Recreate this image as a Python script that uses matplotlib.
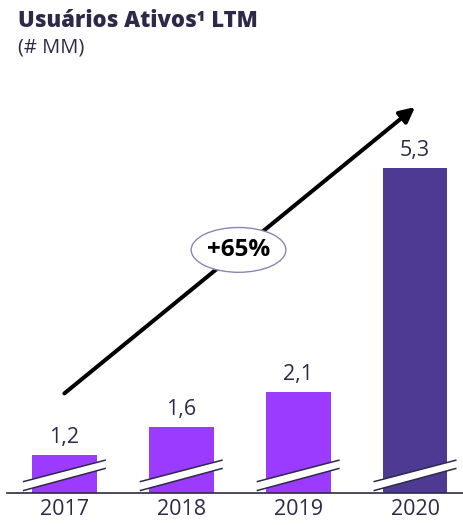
import matplotlib
matplotlib.use("Agg")
import matplotlib.pyplot as plt
from matplotlib.patches import Ellipse, Polygon

# Data
years = ["2017", "2018", "2019", "2020"]
users = [1.2, 1.6, 2.1, 5.3]
value_labels = ["1,2", "1,6", "2,1", "5,3"]
bar_colors = ["#9B3BFF", "#9B3BFF", "#9B3BFF", "#4F3A93"]
growth_label = "+65%"

TEXT = "#2C2A48"

fig = plt.figure(figsize=(4.64, 5.25), dpi=100)
ax = fig.add_axes([7 / 464, 32 / 525, 1 - 7 / 464, 433 / 525])

x = list(range(len(years)))
ax.bar(x, users, width=0.555, color=bar_colors, zorder=2)

ax.set_xlim(-0.491, 3.419)
ax.set_ylim(0.657, 6.843)

for xi, v, lab in zip(x, users, value_labels):
    ax.annotate(lab, (xi, v), xytext=(0, 5), textcoords="offset points",
                ha="center", va="bottom", fontsize=15.5, color=TEXT,
                family="Open Sans")

# axis-break marks across each bar
for xi in x:
    half = 0.355
    up = [(xi - half, 0.818), (xi + half, 1.128)]
    lo = [(xi - half, 0.690), (xi + half, 1.010)]
    ax.add_patch(Polygon([up[0], up[1], lo[1], lo[0]], closed=True,
                         facecolor="white", edgecolor="none", zorder=3,
                         clip_on=False))
    for seg in (up, lo):
        ax.plot([seg[0][0], seg[1][0]], [seg[0][1], seg[1][1]],
                color=TEXT, lw=1.1, zorder=4, solid_capstyle="butt")

# growth arrow
ax.annotate("", xy=(3.0, 6.17), xytext=(0.0, 2.08),
            arrowprops=dict(arrowstyle="-|>,head_length=0.9,head_width=0.45",
                            color="black", lw=2.9, shrinkA=0, shrinkB=0),
            zorder=5)
ax.add_patch(Ellipse((1.49, 4.13), 0.81, 0.64, facecolor="white",
                     edgecolor="#8D84B5", lw=1.0, zorder=6))
ax.text(1.49, 4.13, growth_label, ha="center", va="center", fontsize=17.5,
        fontweight="bold", color="black", family="Open Sans", zorder=7)

# baseline
for side in ("top", "right", "left"):
    ax.spines[side].set_visible(False)
ax.spines["bottom"].set_color(TEXT)
ax.spines["bottom"].set_linewidth(1.2)
ax.set_yticks([])
ax.set_xticks(x)
ax.set_xticklabels(years, fontsize=15.5, color=TEXT, family="Open Sans")
ax.tick_params(axis="x", length=0, pad=4)
ax.set_facecolor("none")

fig.text(18 / 464, 1 - 27 / 525, "Usuários Ativos¹ LTM", fontsize=15.8,
         fontweight="heavy", color=TEXT, family="Open Sans", va="baseline")
fig.text(18 / 464, 1 - 53 / 525, "(# MM)", fontsize=14.5, color=TEXT,
         family="Open Sans", va="baseline")

fig.savefig("out.png", dpi=100)
